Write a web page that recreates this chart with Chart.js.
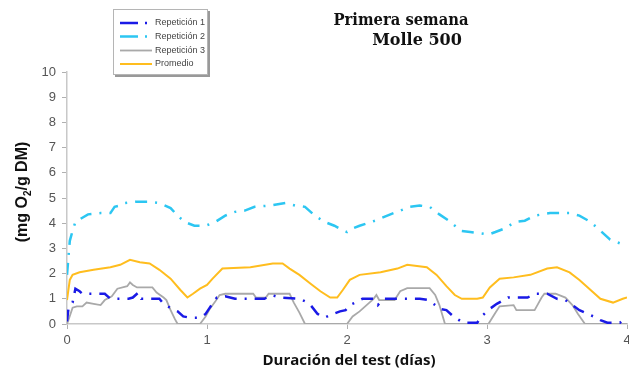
<!DOCTYPE html>
<html>
<head>
<meta charset="utf-8">
<script src="https://cdn.jsdelivr.net/npm/chart.js@4"></script>
<style>
  body { margin: 0; background: #fff; }
  #wrap { width: 629px; height: 374px; }
</style>
</head>
<body>
<div id="wrap"><canvas id="myChart" width="629" height="374"></canvas></div>
<script>
// tick labels
var X_TICKS = [0, 1, 2, 3, 4];
var Y_TICKS = [0, 1, 2, 3, 4, 5, 6, 7, 8, 9, 10];

// Repeticion 1 (days, mg O2/g DM)
var rep1Days = [0,0.01,0.04,0.06,0.09,0.11,0.27,0.31,0.44,0.47,0.51,0.53,0.66,0.69,0.72,0.75,0.79,0.83,0.88,0.95,
  0.99,1.02,1.07,1.13,1.2,1.31,1.41,1.46,1.52,1.66,1.7,1.74,1.79,1.84,1.9,1.95,1.99,2.02,2.06,2.11,
  2.19,2.22,2.26,2.38,2.52,2.58,2.63,2.66,2.71,2.76,2.83,2.93,2.96,2.99,3.02,3.07,3.15,3.29,3.34,3.43,
  3.5,3.56,3.61,3.66,3.76,3.81,3.86,3.95,3.99,4.0];
var rep1Vals = [0.1,0.6,0.85,1.4,1.3,1.2,1.2,1.0,1.0,1.05,1.25,1.0,1.0,0.8,0.7,0.6,0.5,0.3,0.25,0.25,
  0.4,0.65,1.05,1.1,1.0,1.0,1.0,1.15,1.05,1.0,0.9,0.75,0.4,0.25,0.4,0.5,0.55,0.75,0.85,1.0,
  1.0,0.75,1.0,1.0,1.0,0.95,0.75,0.6,0.55,0.3,0.05,0.05,0.3,0.45,0.6,0.8,1.05,1.05,1.2,1.2,
  1.0,0.95,0.75,0.55,0.3,0.15,0.05,0.05,0.25,0.3];

// Repeticion 2
var rep2Days = [0,0.02,0.04,0.06,0.09,0.15,0.24,0.31,0.34,0.38,0.41,0.49,0.59,0.66,0.74,0.79,0.84,0.91,0.99,1.06,
  1.13,1.2,1.27,1.34,1.45,1.56,1.63,1.7,1.77,1.84,1.91,1.96,2.0,2.02,2.09,2.2,2.31,2.38,2.45,2.52,
  2.59,2.66,2.74,2.81,2.88,2.95,3.01,3.06,3.13,3.2,3.27,3.34,3.45,3.59,3.66,3.74,3.81,3.88,3.95,4.0];
var rep2Vals = [1.95,3.3,3.7,4.05,4.15,4.35,4.4,4.4,4.65,4.7,4.8,4.85,4.85,4.8,4.6,4.3,4.05,3.9,3.9,4.05,
  4.3,4.45,4.5,4.65,4.7,4.8,4.7,4.65,4.3,4.05,3.9,3.75,3.65,3.75,3.9,4.1,4.35,4.5,4.65,4.7,
  4.65,4.35,4.05,3.7,3.65,3.6,3.55,3.65,3.8,4.05,4.1,4.3,4.4,4.4,4.3,4.05,3.7,3.35,3.2,3.2];

// Repeticion 3
var rep3Days = [0,0.01,0.04,0.07,0.11,0.14,0.19,0.24,0.27,0.32,0.36,0.43,0.45,0.47,0.5,0.61,0.64,0.69,0.71,0.74,
  0.77,0.79,0.95,0.99,1.02,1.06,1.09,1.13,1.33,1.35,1.42,1.44,1.59,1.62,1.66,1.7,2.0,2.04,2.09,2.14,
  2.19,2.21,2.23,2.34,2.38,2.43,2.59,2.63,2.66,2.7,3.01,3.06,3.09,3.19,3.21,3.34,3.36,3.39,3.41,3.49,
  3.56,3.61,3.65,3.7,4.0];
var rep3Vals = [0,0.15,0.65,0.7,0.7,0.85,0.8,0.75,0.95,1.1,1.4,1.5,1.65,1.55,1.45,1.45,1.25,1.05,0.95,0.55,
  0.2,0,0,0.3,0.6,0.9,1.15,1.2,1.2,1.05,1.05,1.2,1.2,0.85,0.45,0,0,0.3,0.5,0.75,
  1.0,1.15,0.95,0.95,1.3,1.42,1.42,1.15,0.75,0,0,0.45,0.7,0.75,0.55,0.55,0.75,1.05,1.2,1.2,
  1.05,0.75,0.4,0,0];

// Promedio
var avgDays = [0,0.02,0.04,0.09,0.19,0.31,0.38,0.45,0.52,0.59,0.66,0.74,0.81,0.86,0.9,0.95,1.0,1.04,1.11,1.31,
  1.47,1.54,1.59,1.66,1.74,1.81,1.88,1.93,1.97,2.02,2.09,2.24,2.36,2.43,2.57,2.64,2.71,2.77,2.82,2.93,
  2.97,3.02,3.09,3.19,3.31,3.43,3.5,3.59,3.66,3.74,3.81,3.9,3.97,4.0];
var avgVals = [0.95,1.75,1.95,2.05,2.15,2.25,2.35,2.55,2.45,2.4,2.15,1.8,1.35,1.05,1.2,1.4,1.55,1.8,2.2,2.25,
  2.4,2.4,2.2,1.95,1.6,1.3,1.05,1.05,1.35,1.75,1.95,2.05,2.2,2.35,2.25,1.95,1.5,1.15,1.0,1.0,
  1.05,1.45,1.8,1.85,1.95,2.2,2.25,2.05,1.75,1.35,1.0,0.85,1.0,1.05];

function pts(days, vals) {
    var out = [];
    for (var i = 0; i < days.length; i++) {
        out.push({x: days[i], y: vals[i]});
    }
    return out;
}

// titles, axis titles and the boxed legend
var deco = {
    id: 'deco',
    afterDraw: function(chart) {
        var ctx = chart.ctx;
        var area = chart.chartArea;
        ctx.save();

        // chart title (its first line is cut off at the top in the original)
        ctx.fillStyle = '#111';
        ctx.textAlign = 'center';
        ctx.textBaseline = 'alphabetic';
        ctx.font = 'bold 16px "DejaVu Serif"';
        ctx.fillText('Primera semana', 401, 25, 135);
        ctx.fillText('Molle 500', 417, 45, 99);

        // y title with subscript
        ctx.translate(23, (area.top + area.bottom) / 2 - 6);
        ctx.rotate(-Math.PI / 2);
        ctx.textAlign = 'left';
        ctx.textBaseline = 'middle';
        var big = 'bold 16px "Liberation Sans"';
        var small = 'bold 10px "Liberation Sans"';
        ctx.font = big;
        var a = '(mg O', b = '2', c = '/g DM)';
        var wa = ctx.measureText(a).width, wc = ctx.measureText(c).width;
        ctx.font = small;
        var wb = ctx.measureText(b).width;
        var x0 = -(wa + wb + wc) / 2;
        ctx.fillStyle = '#111';
        ctx.font = big;
        ctx.fillText(a, x0, 0);
        ctx.font = small;
        ctx.fillText(b, x0 + wa, 5);
        ctx.font = big;
        ctx.fillText(c, x0 + wa + wb, 0);
        ctx.restore();

        // x title
        ctx.save();
        ctx.fillStyle = '#111';
        ctx.font = 'bold 15px "Open Sans"';
        ctx.textAlign = 'center';
        ctx.textBaseline = 'middle';
        ctx.fillText('Duración del test (días)', 349, 361);
        ctx.restore();

        // legend box
        ctx.save();
        var bx = 113, by = 9, bw = 95, bh = 66;
        ctx.fillStyle = '#999';
        ctx.fillRect(bx + 2, by + 2, bw, bh);
        ctx.fillStyle = '#fff';
        ctx.fillRect(bx, by, bw, bh);
        ctx.strokeStyle = '#b5b5b5';
        ctx.lineWidth = 1;
        ctx.strokeRect(bx + 0.5, by + 0.5, bw - 1, bh - 1);
        var rows = [23, 36.5, 50.5, 64];
        ctx.font = '9px "Liberation Sans"';
        ctx.textBaseline = 'middle';
        chart.data.datasets.forEach(function(ds, k) {
            var y = rows[k];
            ctx.strokeStyle = ds.borderColor;
            ctx.lineWidth = ds.borderWidth;
            ctx.setLineDash(ds.borderDash && ds.borderDash.length ? [18, 7, 2, 7] : []);
            ctx.beginPath();
            ctx.moveTo(120, y);
            ctx.lineTo(152, y);
            ctx.stroke();
            ctx.setLineDash([]);
            ctx.fillStyle = '#444';
            ctx.fillText(ds.label, 155, y);
        });
        ctx.restore();
    }
};

var ctx = document.getElementById('myChart').getContext('2d');
var chart = new Chart(ctx, {
    type: 'line',
    data: {
        datasets: [{
            label: 'Repetición 1',
            data: pts(rep1Days, rep1Vals),
            borderColor: '#1a1ae6',
            borderWidth: 2.5,
            borderDash: [12, 8, 2, 8],
            pointRadius: 0,
            fill: false
        }, {
            label: 'Repetición 2',
            data: pts(rep2Days, rep2Vals),
            borderColor: '#2cc6f2',
            borderWidth: 2.5,
            borderDash: [12, 8, 2, 8],
            pointRadius: 0,
            fill: false
        }, {
            label: 'Repetición 3',
            data: pts(rep3Days, rep3Vals),
            borderColor: '#a9a9a9',
            borderWidth: 1.8,
            pointRadius: 0,
            fill: false
        }, {
            label: 'Promedio',
            data: pts(avgDays, avgVals),
            borderColor: '#ffbd1e',
            borderWidth: 2,
            pointRadius: 0,
            fill: false
        }]
    },
    options: {
        responsive: false,
        animation: false,
        devicePixelRatio: 1,
        layout: { padding: { top: 72, right: 2, left: 0, bottom: 0 } },
        plugins: { legend: { display: false }, title: { display: false }, tooltip: { enabled: false } },
        scales: {
            x: {
                type: 'linear',
                min: 0, max: 4,
                afterBuildTicks: function(s) { s.ticks = X_TICKS.map(function(v) { return {value: v}; }); },
                afterFit: function(s) { s.height = 50; s.paddingLeft = 0; s.paddingRight = 0; },
                border: { color: '#c8c8c8', width: 1.5 },
                grid: { drawOnChartArea: false, drawTicks: true, tickLength: 5, color: '#b0b0b0' },
                ticks: { color: '#555', padding: 4, font: { family: 'Liberation Sans', size: 13 }, maxRotation: 0 }
            },
            y: {
                min: 0, max: 10,
                afterBuildTicks: function(s) { s.ticks = Y_TICKS.map(function(v) { return {value: v}; }); },
                afterFit: function(s) { s.width = 67; s.paddingTop = 0; s.paddingBottom = 0; },
                border: { color: '#c8c8c8', width: 1.5 },
                grid: { drawOnChartArea: false, drawTicks: true, tickLength: 5, color: '#b0b0b0' },
                ticks: { color: '#555', padding: 6, font: { family: 'Liberation Sans', size: 13 } }
            }
        }
    },
    plugins: [deco]
});
</script>
</body>
</html>
